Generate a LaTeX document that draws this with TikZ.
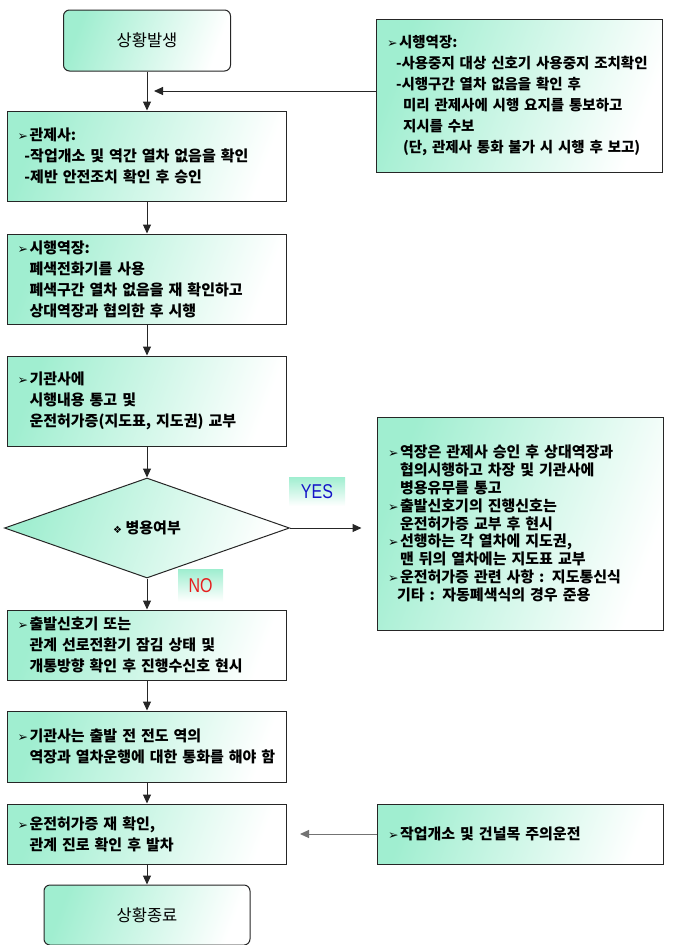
\documentclass[tikz,border=0pt]{standalone}
\usepackage{fontspec}
\setmainfont{Noto Sans CJK KR}
\newfontfamily\symfont{DejaVu Sans}
\newfontfamily\narrowfont{Liberation Sans}[FakeStretch=0.8]
\usetikzlibrary{positioning,shapes.geometric,arrows.meta,calc}
\definecolor{mint}{RGB}{160,238,208}
\definecolor{yesblue}{RGB}{20,20,200}
\definecolor{nored}{RGB}{230,30,30}
\newcommand{\widesp}{\spaceskip=0.45em plus 0pt minus 0.1em\relax}
\newcommand{\bul}{\makebox[12pt][l]{\symfont\fontsize{12.5}{12}\selectfont ➢}}
\newcommand{\ind}{\hspace*{14pt}}
\newcommand{\dsh}{\hspace*{9pt}-}
\tikzset{
  box/.style={draw=black!85, line width=1pt, left color=mint, right color=white, shading angle=70, text width=263pt, inner xsep=8pt, align=left, font=\bfseries\fontsize{15}{21}\selectfont\widesp},
  note/.style={box, text width=276pt, inner xsep=5pt},
  term/.style={draw=black!85, line width=1pt, rounded corners=6pt, left color=mint, right color=white, shading angle=70, font=\fontsize{16.5}{20}\selectfont},
  decide/.style={diamond, draw=black!85, line width=1pt, aspect=2.85, minimum width=285pt, minimum height=100pt, inner sep=0pt, left color=mint, right color=white, shading angle=70, font=\bfseries\fontsize{15}{16}\selectfont},
  tag/.style={top color=mint, bottom color=white, font=\narrowfont\fontsize{20}{20}\selectfont, inner sep=0pt},
  link/.style={-{Triangle[width=8pt,length=9pt]}, line width=1pt, black!85}
}
\begin{document}
\begin{tikzpicture}[node distance=31pt]
\useasboundingbox (0pt,0pt) rectangle (672pt,-945pt);

\node (start) [term, minimum width=167pt, minimum height=61pt] at (147pt,-40.5pt) {상황발생};
\node (control) [box, minimum height=90pt, below=39pt of start] {\hspace*{2pt}\bul 관제사:\\\dsh 작업개소 및 역간 열차 없음을 확인\\\dsh 제반 안전조치 확인 후 승인};
\node (station) [box, minimum height=90pt, below=32pt of control] {\hspace*{2pt}\bul 시행역장:\\\ind 폐색전화기를 사용\\\ind 폐색구간 열차 없음을 재 확인하고\\\ind 상대역장과 협의한 후 시행};
\node (driver) [box, minimum height=90pt, below=of station] {\hspace*{2pt}\bul 기관사에\\\ind 시행내용 통고 및\\\ind 운전허가증(지도표, 지도권) 교부};
\node (choice) [decide, below=of driver] {{\symfont\fontsize{10}{10}\selectfont ❖}\ 병용여부};
\node (signal) [box, minimum height=70pt, below=of choice] {\hspace*{2pt}\bul 출발신호기 또는\\\ind 관계 선로전환기 잠김 상태 및\\\ind 개통방향 확인 후 진행수신호 현시};
\node (talk) [box, minimum height=71pt, below=30pt of signal] {\hspace*{2pt}\bul 기관사는 출발 전 전도 역의\\\ind 역장과 열차운행에 대한 통화를 해야 함};
\node (depart) [box, minimum height=60pt, below=21pt of talk] {\hspace*{2pt}\bul 운전허가증 재 확인,\\\ind 관계 진로 확인 후 발차};
\node (finish) [term, minimum width=206pt, minimum height=60pt, below=20pt of depart] {상황종료};

\node (pre) [note, minimum height=153pt, font=\bfseries\fontsize{14.5}{21}\selectfont\widesp] at (519pt,-95.5pt) {\hspace*{6pt}\bul 시행역장:\\\mbox{\hspace*{15pt}-사용중지 대상 신호기 사용중지 조치확인}\\\hspace*{15pt}-시행구간 열차 없음을 확인 후\\\hspace*{22pt}미리 관제사에 시행 요지를 통보하고\\\hspace*{22pt}지시를 수보\\\hspace*{22pt}(단, 관제사 통화 불가 시 시행 후 보고)};
\node (merge) [note, minimum height=213pt, font=\bfseries\fontsize{15}{17.8}\selectfont\widesp, right=86.5pt of choice, yshift=4.5pt] {\hspace*{6pt}\bul 역장은 관제사 승인 후 상대역장과\\\hspace*{18pt}협의시행하고 차장 및 기관사에\\\hspace*{18pt}병용유무를 통고\\\hspace*{6pt}\bul 출발신호기의 진행신호는\\\hspace*{18pt}운전허가증 교부 후 현시\\\hspace*{6pt}\bul 선행하는 각 열차에 지도권,\\\hspace*{18pt}맨 뒤의 열차에는 지도표 교부\\\hspace*{6pt}\bul 운전허가증 관련 사항 : 지도통신식\\\hspace*{15pt}기타 : 자동폐색식의 경우 준용};
\node (caution) [note, minimum height=60pt, right=89.5pt of depart] {\hspace*{6pt}\bul 작업개소 및 건널목 주의운전};

\node (yes) [tag, minimum width=56pt, minimum height=29pt, text=yesblue] at ($(choice.east)+(27pt,36.5pt)$) {YES};
\node (no) [tag, minimum width=45pt, minimum height=32pt, text=nored] at ($(choice.south)+(53.5pt,-7pt)$) {NO};

\draw[link] (start) -- (control);
\draw[link] (control) -- (station);
\draw[link] (station) -- (driver);
\draw[link] (driver) -- (choice);
\draw[link] (choice) -- (signal);
\draw[link] (signal) -- (talk);
\draw[link] (talk) -- (depart);
\draw[link] (depart) -- (finish);

\coordinate (m1) at ($(start.south)!0.5!(control.north)$);
\draw[link, shorten >=7pt] (pre.west |- m1) -- (m1);
\draw[link, shorten >=15pt] (choice.east) -- (choice.east -| merge.west);
\draw[link, black!55, shorten >=13pt] (caution.west) -- (caution.west -| depart.east);
\end{tikzpicture}
\end{document}
